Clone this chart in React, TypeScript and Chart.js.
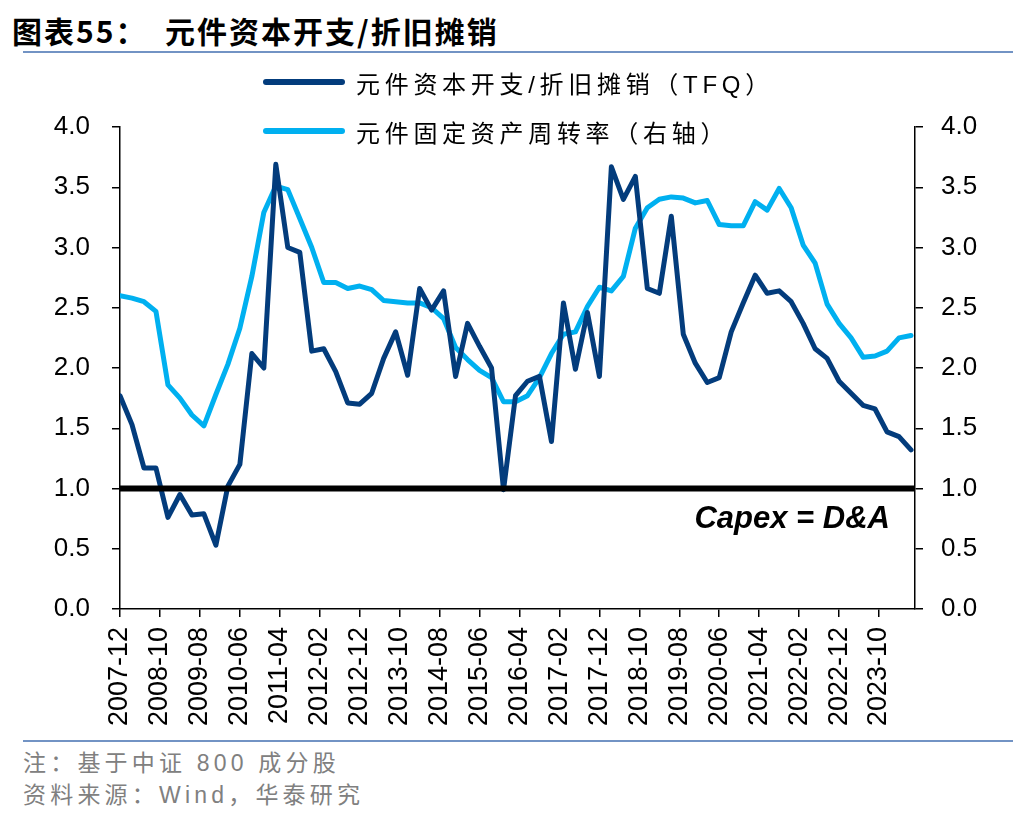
import React, { useEffect, useRef } from 'react';
import { Chart, registerables } from 'chart.js';

Chart.register(...registerables);

// x positions are months elapsed since 2007-12 (quarterly observations)
const xTickLabels = [
  '2007-12', '2008-10', '2009-08', '2010-06', '2011-04', '2012-02', '2012-12',
  '2013-10', '2014-08', '2015-06', '2016-04', '2017-02', '2017-12', '2018-10',
  '2019-08', '2020-06', '2021-04', '2022-02', '2022-12', '2023-10',
];
const xTickStepMonths = 10;
const xAxisMaxMonths = 199;
const monthsPerObservation = 3;

const capexToDA = [
  1.77, 1.53, 1.17, 1.17, 0.76, 0.95, 0.78, 0.79, 0.53, 1.02, 1.20,
  2.12, 2.00, 3.69, 3.00, 2.96, 2.14, 2.16, 1.97, 1.71, 1.70,
  1.79, 2.08, 2.30, 1.94, 2.66, 2.48, 2.64, 1.93, 2.37, 2.18,
  2.00, 0.99, 1.77, 1.89, 1.93, 1.39, 2.54, 1.99, 2.46, 1.93,
  3.67, 3.40, 3.59, 2.66, 2.62, 3.26, 2.28, 2.04, 1.88, 1.92,
  2.30, 2.54, 2.77, 2.62, 2.64, 2.55, 2.37, 2.16, 2.08, 1.89,
  1.79, 1.69, 1.66, 1.47, 1.43, 1.32,
];

const assetTurnover = [
  2.60, 2.58, 2.55, 2.47, 1.86, 1.75, 1.61, 1.52, 1.78, 2.03, 2.33,
  2.76, 3.29, 3.51, 3.48, 3.24, 3.00, 2.71, 2.71, 2.66, 2.68,
  2.65, 2.56, 2.55, 2.54, 2.54, 2.50, 2.41, 2.17, 2.07, 1.98,
  1.92, 1.72, 1.72, 1.77, 1.92, 2.12, 2.28, 2.30, 2.51, 2.67,
  2.64, 2.76, 3.16, 3.33, 3.40, 3.42, 3.41, 3.37, 3.39, 3.19,
  3.18, 3.18, 3.38, 3.31, 3.49, 3.33, 3.02, 2.87, 2.53, 2.37,
  2.25, 2.09, 2.10, 2.14, 2.25, 2.27,
];

const breakEvenLevel = [1.0, 1.0];
const annotationText = 'Capex = D&A';
const annotationValue = 0.74;

const seriesNames = ['元件资本开支/折旧摊销（TFQ）', '元件固定资产周转率（右轴）'];
const titleText = '图表55：  元件资本开支/折旧摊销';
const noteText = '注：基于中证 800 成分股';
const sourceText = '资料来源：Wind，华泰研究';

const DARK = '#033C7C';
const LIGHT = '#00B0F0';
const RULE = '#7293C4';

const annotationPlugin = {
  id: 'capexAnnotation',
  afterDatasetsDraw(chart: any) {
    const { ctx, chartArea, scales } = chart;
    ctx.save();
    ctx.font = 'italic bold 31px "Liberation Sans", Arial, sans-serif';
    ctx.fillStyle = '#000';
    ctx.textAlign = 'right';
    ctx.textBaseline = 'middle';
    ctx.fillText(annotationText, chartArea.right - 25, scales.y.getPixelForValue(annotationValue));
    ctx.restore();
  },
};

export default function App() {
  const canvasRef = useRef<HTMLCanvasElement | null>(null);

  useEffect(() => {
    if (!canvasRef.current) return;
    Chart.defaults.font.family = '"Liberation Sans", Arial, sans-serif';
    const yAxisCommon = (position: 'left' | 'right', width: number, pad: number) => ({
      type: 'linear' as const,
      position,
      min: 0,
      max: 4,
      afterFit: (s: any) => { s.width = width; },
      ticks: {
        stepSize: 0.5,
        color: '#000',
        padding: pad,
        font: { size: 26 },
        callback: (v: any) => Number(v).toFixed(1),
      },
      grid: { drawOnChartArea: false, drawTicks: true, tickLength: 8, color: '#000', lineWidth: 1.5 },
      border: { display: true, color: '#000', width: 1.5 },
    });

    const chart = new Chart(canvasRef.current, {
      type: 'line',
      data: {
        datasets: [
          {
            label: 'Capex = D&A',
            data: breakEvenLevel.map((v, i) => ({ x: i * xAxisMaxMonths, y: v })),
            borderColor: '#000',
            borderWidth: 6,
            pointRadius: 0,
            yAxisID: 'y',
          },
          {
            label: seriesNames[0],
            data: capexToDA.map((v, i) => ({ x: i * monthsPerObservation, y: v })),
            borderColor: DARK,
            borderWidth: 5,
            borderJoinStyle: 'round',
            borderCapStyle: 'round',
            pointRadius: 0,
            tension: 0,
            yAxisID: 'y',
          },
          {
            label: seriesNames[1],
            data: assetTurnover.map((v, i) => ({ x: i * monthsPerObservation, y: v })),
            borderColor: LIGHT,
            borderWidth: 5,
            borderJoinStyle: 'round',
            borderCapStyle: 'round',
            pointRadius: 0,
            tension: 0,
            yAxisID: 'y1',
          },
        ],
      },
      options: {
        responsive: false,
        animation: false,
        devicePixelRatio: 1,
        layout: { padding: { top: 127, left: 0, right: 0, bottom: 0 } },
        plugins: { legend: { display: false }, tooltip: { enabled: false } },
        scales: {
          x: {
            type: 'linear',
            position: 'bottom',
            min: 0,
            max: xAxisMaxMonths,
            afterFit: (s: any) => { s.height = 131; },
            afterBuildTicks: (s: any) => {
              s.ticks = xTickLabels.map((_, i) => ({ value: i * xTickStepMonths }));
            },
            ticks: {
              autoSkip: false,
              maxRotation: 90,
              minRotation: 90,
              color: '#000',
              padding: 10,
              font: { size: 27 },
              callback: (_v: any, i: number) => xTickLabels[i],
            },
            grid: { drawOnChartArea: false, drawTicks: true, tickLength: 8, color: '#000', lineWidth: 1.5 },
            border: { display: true, color: '#000', width: 1.5 },
          },
          y: yAxisCommon('left', 120, 22),
          y1: yAxisCommon('right', 121, 18),
        },
      },
      plugins: [annotationPlugin],
    });
    return () => chart.destroy();
  }, []);

  const cjk = '"Liberation Sans", "Noto Sans CJK SC", sans-serif';

  return (
    <div style={{ position: 'fixed', left: 0, top: 0, width: 1036, height: 828, background: '#fff', overflow: 'hidden' }}>
      <div style={{ position: 'absolute', left: 12, top: 10, fontFamily: '"Noto Sans CJK SC", sans-serif', fontWeight: 700, fontSize: 30, letterSpacing: 2, lineHeight: '40px', whiteSpace: 'pre', color: '#000' }}>
        {titleText}
      </div>
      <div style={{ position: 'absolute', left: 23, top: 51, width: 990, height: 2, background: RULE }} />
      <canvas ref={canvasRef} width={1036} height={740} style={{ position: 'absolute', left: 0, top: 0, display: 'block' }} />
      {seriesNames.map((name, i) => (
        <div key={name} style={{ position: 'absolute', left: 263, top: i === 0 ? 62 : 111, height: 40, display: 'flex', alignItems: 'center' }}>
          <div style={{ width: 82, height: 6, borderRadius: 3, background: i === 0 ? DARK : LIGHT }} />
          <div style={{ marginLeft: 11, fontFamily: cjk, fontSize: 24, letterSpacing: 4.7, color: '#000', whiteSpace: 'pre' }}>{name}</div>
        </div>
      ))}
      <div style={{ position: 'absolute', left: 23, top: 740, width: 990, height: 2, background: RULE }} />
      <div style={{ position: 'absolute', left: 23, top: 747, fontFamily: cjk, fontSize: 23, letterSpacing: 4.2, color: '#808080', lineHeight: '32px', whiteSpace: 'pre' }}>{noteText}</div>
      <div style={{ position: 'absolute', left: 23, top: 779, fontFamily: cjk, fontSize: 23, letterSpacing: 4.2, color: '#808080', lineHeight: '32px', whiteSpace: 'pre' }}>{sourceText}</div>
    </div>
  );
}
